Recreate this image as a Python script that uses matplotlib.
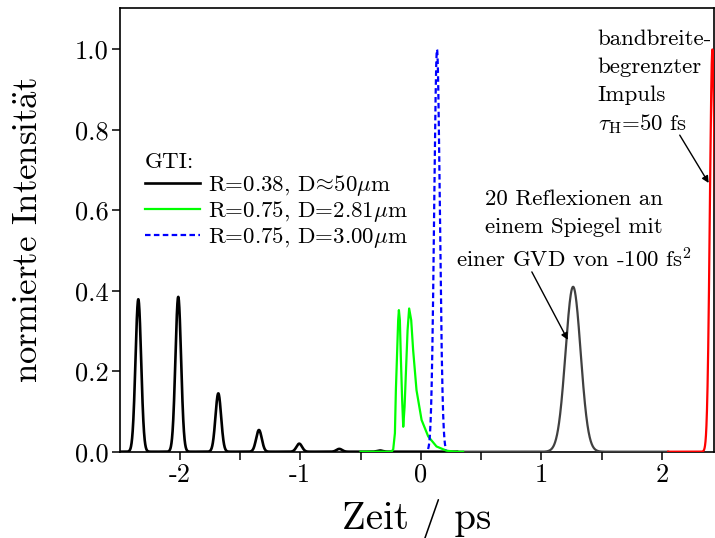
import numpy as np
import matplotlib.pyplot as plt
from matplotlib.lines import Line2D
from matplotlib.ticker import FixedLocator, FixedFormatter, MultipleLocator

plt.rcParams["font.family"] = ["cmr10", "DejaVu Serif"]
plt.rcParams["mathtext.fontset"] = "cm"
plt.rcParams["axes.unicode_minus"] = False
plt.rcParams["axes.formatter.use_mathtext"] = True

# GTI R=0.38, D~50um: pulse train, centre (ps), peak height, FWHM (ps)
black_t0 = [-2.342, -2.011, -1.679, -1.342, -1.008, -0.676, -0.339]
black_amp = [0.379, 0.385, 0.145, 0.054, 0.020, 0.007, 0.003]
black_fwhm = 0.055

# GTI R=0.75, D=2.81um: read point by point
green_t = [-0.50, -0.243, -0.229, -0.215, -0.207, -0.196, -0.188, -0.182,
           -0.174, -0.166, -0.155, -0.146, -0.135, -0.124, -0.110, -0.097,
           -0.080, -0.064, -0.036, 0.006, 0.061, 0.130, 0.213, 0.282, 0.35]
green_i = [0.0, 0.0, 0.006, 0.046, 0.153, 0.253, 0.327, 0.352,
           0.327, 0.236, 0.128, 0.062, 0.111, 0.195, 0.302, 0.356,
           0.327, 0.253, 0.153, 0.079, 0.038, 0.013, 0.0025, 0.0, 0.0]

# GTI R=0.75, D=3.00um
blue_t0, blue_amp, blue_fwhm = 0.134, 1.0, 0.055
# 20 reflections, GVD -100 fs^2
gray_t0, gray_amp, gray_fwhm = 1.262, 0.41, 0.147
# bandwidth-limited pulse, 50 fs
red_t0, red_amp, red_fwhm = 2.417, 1.0, 0.050

x_ticks = [-2, -1, 0, 1, 2]
x_ticklabels = ["-2", "-1", "0", "1", "2"]
y_ticks = [0.0, 0.2, 0.4, 0.6, 0.8, 1.0]
y_ticklabels = ["0.0", "0.2", "0.4", "0.6", "0.8", "1.0"]


def pulse(t, t0, amp, fwhm):
    sig = fwhm / 2.3548
    return amp * np.exp(-0.5 * ((t - t0) / sig) ** 2)


fig = plt.figure(figsize=(7.15, 5.38), dpi=100)
ax = fig.add_axes([0.1678, 0.1604, 0.8308, 0.8247])

tb = np.linspace(-2.494, 0.30, 3000)
yb = sum(pulse(tb, c, a, black_fwhm) for c, a in zip(black_t0, black_amp))
ax.plot(tb, yb, color="black", lw=1.9, zorder=3)

ax.plot(green_t, green_i, color="#00ff00", lw=1.6, zorder=4)

tbl = np.linspace(0.06, 0.21, 400)
ax.plot(tbl, pulse(tbl, blue_t0, blue_amp, blue_fwhm), color="#0000ff",
        lw=1.6, ls=(0, (2.5, 1.5)), zorder=5)

tg = np.linspace(0.30, 2.05, 1500)
ax.plot(tg, pulse(tg, gray_t0, gray_amp, gray_fwhm), color="#404040",
        lw=1.6, zorder=3)

tr = np.linspace(2.05, 2.44, 800)
ax.plot(tr, pulse(tr, red_t0, red_amp, red_fwhm), color="#ff0000",
        lw=1.6, zorder=4)

ax.set_xlim(-2.494, 2.43)
ax.set_ylim(0, 1.103)

ax.xaxis.set_major_locator(FixedLocator(x_ticks))
ax.xaxis.set_major_formatter(FixedFormatter(x_ticklabels))
ax.xaxis.set_minor_locator(MultipleLocator(0.5))
ax.yaxis.set_major_locator(FixedLocator(y_ticks))
ax.yaxis.set_major_formatter(FixedFormatter(y_ticklabels))
ax.tick_params(which="both", direction="out", length=6, width=1.1,
               labelsize=19, pad=2, top=False, right=False)
for s in ax.spines.values():
    s.set_linewidth(1.2)

ax.set_xlabel("Zeit / ps", fontsize=28, labelpad=9)
ax.set_ylabel(r"normierte Intensit$\ddot{\mathrm{a}}$t", fontsize=25,
              labelpad=22)

handles = [
    Line2D([], [], color="black", lw=1.9),
    Line2D([], [], color="#00ff00", lw=1.6),
    Line2D([], [], color="#0000ff", lw=1.6, ls=(0, (2.5, 1.5))),
]
labels = [
    r"R=0.38, D$\!\approx\!$50$\mu$m",
    r"R=0.75, D=2.81$\mu$m",
    r"R=0.75, D=3.00$\mu$m",
]
ax.legend(handles, labels, title="GTI:", loc="upper left",
          bbox_to_anchor=(0.042, 0.675), frameon=False, fontsize=16.5,
          title_fontsize=16.5, alignment="left", handlelength=2.4,
          handletextpad=0.35, labelspacing=0.05, borderpad=0,
          borderaxespad=0)

# annotation: bandwidth-limited pulse
for txt, yy in zip(["bandbreite-", "begrenzter", "Impuls",
                    r"$\tau_{\rm H}$=50 fs"],
                   [1.011, 0.941, 0.871, 0.799]):
    ax.text(1.466, yy, txt, fontsize=16.5, ha="left", va="baseline")
ax.annotate("", xy=(2.386, 0.668), xytext=(2.146, 0.787),
            arrowprops=dict(arrowstyle="-|>", color="black", lw=1.0,
                            mutation_scale=10, shrinkA=0, shrinkB=0))

# annotation: 20 reflections
for txt, yy in zip(["20 Reflexionen an", "einem Spiegel mit",
                    r"einer GVD von -100 fs$^2$"],
                   [0.613, 0.543, 0.459]):
    ax.text(1.268, yy, txt, fontsize=16.5, ha="center", va="baseline")
ax.annotate("", xy=(1.218, 0.278), xytext=(0.92, 0.447),
            arrowprops=dict(arrowstyle="-|>", color="black", lw=1.0,
                            mutation_scale=10, shrinkA=0, shrinkB=0))

fig.savefig("out.png", dpi=100)
